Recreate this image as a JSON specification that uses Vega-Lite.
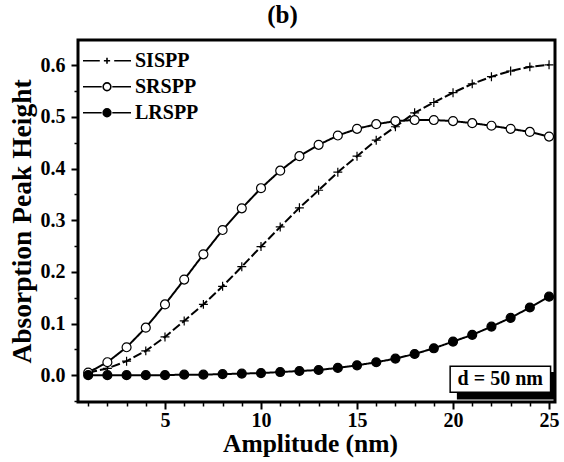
{
  "$schema": "https://vega.github.io/schema/vega-lite/v6.json",
  "autosize": {"type": "none"},
  "width": 477,
  "height": 362,
  "padding": {"left": 78, "top": 40, "right": 9, "bottom": 60},
  "background": "white",
  "title": {"text": "(b)", "font": "Liberation Serif", "fontSize": 25, "fontWeight": "bold", "color": "black", "anchor": "middle", "dx": -34, "offset": 11},
  "config": {
    "view": {"stroke": null},
    "axis": {"grid": false, "domain": false, "tickColor": "black", "labelColor": "black", "titleColor": "black", "labelFont": "Liberation Serif", "titleFont": "Liberation Serif", "labelFontWeight": "bold", "titleFontWeight": "bold"}
  },
  "datasets": {
    "curves": [
      {"x": 1, "series": "SISPP", "y": 0.005}, {"x": 2, "series": "SISPP", "y": 0.013}, {"x": 3, "series": "SISPP", "y": 0.027}, {"x": 4, "series": "SISPP", "y": 0.047}, {"x": 5, "series": "SISPP", "y": 0.074},
      {"x": 6, "series": "SISPP", "y": 0.105}, {"x": 7, "series": "SISPP", "y": 0.137}, {"x": 8, "series": "SISPP", "y": 0.172}, {"x": 9, "series": "SISPP", "y": 0.210}, {"x": 10, "series": "SISPP", "y": 0.249},
      {"x": 11, "series": "SISPP", "y": 0.287}, {"x": 12, "series": "SISPP", "y": 0.324}, {"x": 13, "series": "SISPP", "y": 0.358}, {"x": 14, "series": "SISPP", "y": 0.393}, {"x": 15, "series": "SISPP", "y": 0.424},
      {"x": 16, "series": "SISPP", "y": 0.455}, {"x": 17, "series": "SISPP", "y": 0.481}, {"x": 18, "series": "SISPP", "y": 0.508}, {"x": 19, "series": "SISPP", "y": 0.528}, {"x": 20, "series": "SISPP", "y": 0.547},
      {"x": 21, "series": "SISPP", "y": 0.564}, {"x": 22, "series": "SISPP", "y": 0.578}, {"x": 23, "series": "SISPP", "y": 0.589}, {"x": 24, "series": "SISPP", "y": 0.597}, {"x": 25, "series": "SISPP", "y": 0.601},
      {"x": 1, "series": "SRSPP", "y": 0.005}, {"x": 2, "series": "SRSPP", "y": 0.025}, {"x": 3, "series": "SRSPP", "y": 0.054}, {"x": 4, "series": "SRSPP", "y": 0.092}, {"x": 5, "series": "SRSPP", "y": 0.137},
      {"x": 6, "series": "SRSPP", "y": 0.185}, {"x": 7, "series": "SRSPP", "y": 0.234}, {"x": 8, "series": "SRSPP", "y": 0.281}, {"x": 9, "series": "SRSPP", "y": 0.323}, {"x": 10, "series": "SRSPP", "y": 0.362},
      {"x": 11, "series": "SRSPP", "y": 0.396}, {"x": 12, "series": "SRSPP", "y": 0.424}, {"x": 13, "series": "SRSPP", "y": 0.446}, {"x": 14, "series": "SRSPP", "y": 0.464}, {"x": 15, "series": "SRSPP", "y": 0.477},
      {"x": 16, "series": "SRSPP", "y": 0.486}, {"x": 17, "series": "SRSPP", "y": 0.492}, {"x": 18, "series": "SRSPP", "y": 0.494}, {"x": 19, "series": "SRSPP", "y": 0.494}, {"x": 20, "series": "SRSPP", "y": 0.492},
      {"x": 21, "series": "SRSPP", "y": 0.488}, {"x": 22, "series": "SRSPP", "y": 0.483}, {"x": 23, "series": "SRSPP", "y": 0.477}, {"x": 24, "series": "SRSPP", "y": 0.471}, {"x": 25, "series": "SRSPP", "y": 0.462},
      {"x": 1, "series": "LRSPP", "y": 0.000}, {"x": 2, "series": "LRSPP", "y": 0.000}, {"x": 3, "series": "LRSPP", "y": 0.000}, {"x": 4, "series": "LRSPP", "y": 0.000}, {"x": 5, "series": "LRSPP", "y": 0.000},
      {"x": 6, "series": "LRSPP", "y": 0.001}, {"x": 7, "series": "LRSPP", "y": 0.001}, {"x": 8, "series": "LRSPP", "y": 0.002}, {"x": 9, "series": "LRSPP", "y": 0.003}, {"x": 10, "series": "LRSPP", "y": 0.004},
      {"x": 11, "series": "LRSPP", "y": 0.006}, {"x": 12, "series": "LRSPP", "y": 0.008}, {"x": 13, "series": "LRSPP", "y": 0.010}, {"x": 14, "series": "LRSPP", "y": 0.014}, {"x": 15, "series": "LRSPP", "y": 0.019},
      {"x": 16, "series": "LRSPP", "y": 0.025}, {"x": 17, "series": "LRSPP", "y": 0.032}, {"x": 18, "series": "LRSPP", "y": 0.041}, {"x": 19, "series": "LRSPP", "y": 0.052}, {"x": 20, "series": "LRSPP", "y": 0.065},
      {"x": 21, "series": "LRSPP", "y": 0.078}, {"x": 22, "series": "LRSPP", "y": 0.094}, {"x": 23, "series": "LRSPP", "y": 0.111}, {"x": 24, "series": "LRSPP", "y": 0.131}, {"x": 25, "series": "LRSPP", "y": 0.152}
    ],
    "note": [{"label": "d = 50 nm"}]
  },
  "resolve": {"axis": {"x": "independent", "y": "independent"}, "scale": {"shape": "independent", "fill": "independent", "stroke": "independent", "strokeDash": "independent"}},
  "layer": [
    {
      "data": {"name": "curves"},
      "mark": {"type": "line", "color": "black", "strokeWidth": 2},
      "encoding": {
        "x": {"field": "x", "type": "quantitative", "scale": {"domain": [0.47, 25.31], "nice": false, "zero": false},
          "axis": {"orient": "bottom", "values": [5, 10, 15, 20, 25], "tickSize": 7, "tickWidth": 2, "labelFontSize": 20, "labelPadding": 1, "title": "Amplitude (nm)", "titleFontSize": 25.5, "titlePadding": 1, "titleX": 232, "titleAlign": "center"}},
        "y": {"field": "y", "type": "quantitative", "scale": {"domain": [-0.052, 0.649], "nice": false, "zero": false},
          "axis": {"orient": "left", "values": [0, 0.1, 0.2, 0.3, 0.4, 0.5, 0.6], "format": ".1f", "tickSize": 7, "tickWidth": 2, "labelFontSize": 20, "labelPadding": 6, "title": "Absorption Peak Height", "titleFontSize": 27.5, "titlePadding": 4}},
        "detail": {"field": "series"},
        "strokeDash": {"field": "series", "type": "nominal", "scale": {"domain": ["SISPP", "SRSPP", "LRSPP"], "range": [[9, 3], [1, 0], [1, 0]]}, "legend": null}
      }
    },
    {
      "data": {"name": "curves"},
      "mark": {"type": "point", "filled": true, "stroke": "black", "strokeWidth": 1.2, "size": 80, "opacity": 1},
      "encoding": {
        "x": {"field": "x", "type": "quantitative", "axis": {"orient": "bottom", "values": [1,2,3,4,6,7,8,9,11,12,13,14,16,17,18,19,21,22,23,24], "tickSize": 4, "tickWidth": 1.5, "labels": false, "title": null}},
        "y": {"field": "y", "type": "quantitative", "axis": {"orient": "left", "values": [-0.05, 0.05, 0.15, 0.25, 0.35, 0.45, 0.55], "tickSize": 4, "tickWidth": 1.5, "labels": false, "title": null}},
        "shape": {"field": "series", "type": "nominal", "scale": {"domain": ["SISPP", "SRSPP", "LRSPP"], "range": ["M-1,0H1M0,-1V1", "circle", "circle"]}, "legend": null},
        "fill": {"field": "series", "type": "nominal", "scale": {"domain": ["SISPP", "SRSPP", "LRSPP"], "range": ["white", "white", "black"]}, "legend": null}
      }
    },
    {
      "data": {"name": "curves"},
      "mark": {"type": "point", "filled": true, "strokeWidth": 1.6, "opacity": 0},
      "encoding": {
        "x": {"field": "x", "type": "quantitative", "axis": null},
        "y": {"field": "y", "type": "quantitative", "axis": null},
        "shape": {"field": "series", "type": "nominal",
          "scale": {"domain": ["SISPP", "SRSPP", "LRSPP"], "range": [
            "M-1,0H-0.3M0.3,0H1M-0.13,0H0.13M0,-0.13V0.13",
            "M-1,0H-0.22M0.22,0H1M-0.16,0A0.16,0.16 0 1,0 0.16,0A0.16,0.16 0 1,0 -0.16,0Z",
            "M-1,0H-0.22M0.22,0H1M-0.16,0A0.16,0.16 0 1,0 0.16,0A0.16,0.16 0 1,0 -0.16,0Z"]},
          "legend": {"title": null, "orient": "none", "legendX": 4, "legendY": 8, "symbolSize": 2304, "symbolStrokeWidth": 1.6, "symbolOpacity": 1, "labelFont": "Liberation Serif", "labelFontWeight": "bold", "labelFontSize": 20, "labelColor": "black", "labelOffset": 3, "clipHeight": 25.5, "rowPadding": 0, "padding": 0}},
        "fill": {"field": "series", "type": "nominal", "scale": {"domain": ["SISPP", "SRSPP", "LRSPP"], "range": ["white", "white", "black"]},
          "legend": {"title": null, "orient": "none", "legendX": 4, "legendY": 8, "symbolSize": 2304, "symbolStrokeWidth": 1.6, "symbolOpacity": 1, "labelFont": "Liberation Serif", "labelFontWeight": "bold", "labelFontSize": 20, "labelColor": "black", "labelOffset": 3, "clipHeight": 25.5, "rowPadding": 0, "padding": 0}},
        "stroke": {"field": "series", "type": "nominal", "scale": {"domain": ["SISPP", "SRSPP", "LRSPP"], "range": ["black", "black", "black"]},
          "legend": {"title": null, "orient": "none", "legendX": 4, "legendY": 8, "symbolSize": 2304, "symbolStrokeWidth": 1.6, "symbolOpacity": 1, "labelFont": "Liberation Serif", "labelFontWeight": "bold", "labelFontSize": 20, "labelColor": "black", "labelOffset": 3, "clipHeight": 25.5, "rowPadding": 0, "padding": 0}}
      }
    },
    {
      "data": {"name": "note"},
      "mark": {"type": "rect", "fill": "black"},
      "encoding": {
        "x": {"datum": 20.2, "type": "quantitative", "axis": null},
        "x2": {"datum": 25.3},
        "y": {"datum": -0.047, "type": "quantitative", "axis": null},
        "y2": {"datum": 0.006}
      }
    },
    {
      "data": {"name": "note"},
      "mark": {"type": "rect", "fill": "white", "stroke": "black", "strokeWidth": 1.5},
      "encoding": {
        "x": {"datum": 19.85, "type": "quantitative", "axis": null},
        "x2": {"datum": 25.08},
        "y": {"datum": -0.033, "type": "quantitative", "axis": null},
        "y2": {"datum": 0.0174}
      }
    },
    {
      "data": {"name": "note"},
      "mark": {"type": "text", "font": "Liberation Serif", "fontWeight": "bold", "fontSize": 20, "color": "black", "align": "center", "baseline": "middle"},
      "encoding": {
        "x": {"datum": 22.46, "type": "quantitative", "axis": null},
        "y": {"datum": -0.007, "type": "quantitative", "axis": null},
        "text": {"field": "label"}
      }
    },
    {
      "data": {"name": "note"},
      "mark": {"type": "rect", "fill": null, "fillOpacity": 0, "stroke": "black", "strokeWidth": 3},
      "encoding": {
        "x": {"datum": 0.47, "type": "quantitative", "axis": null},
        "x2": {"datum": 25.31},
        "y": {"datum": -0.052, "type": "quantitative", "axis": null},
        "y2": {"datum": 0.649}
      }
    }
  ]
}
